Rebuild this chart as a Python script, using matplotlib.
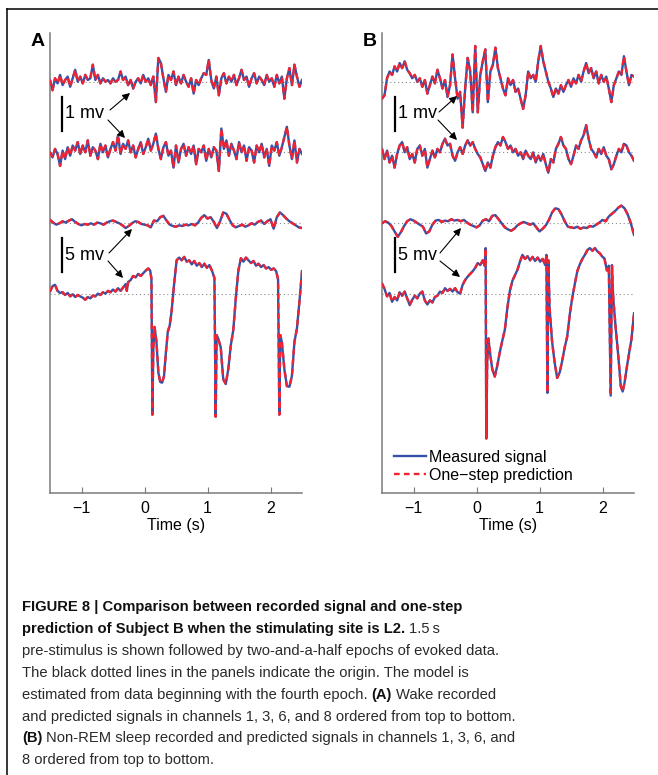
import matplotlib.pyplot as plt
import numpy as np
from matplotlib.lines import Line2D
from matplotlib.patches import FancyArrowPatch

W, H = 658, 775
BLUE = '#3551a8'
RED = '#ef2331'
GRAY = '#7a7a7a'

plt.rcParams['font.family'] = ['Liberation Sans', 'DejaVu Sans']

# time grids (s)
t_fast = np.linspace(-1.5, 2.5, 101)
t_slow = np.linspace(-1.5, 2.5, 81)

# ---- Panel A: wake, channels 1, 3 (mV, 1 mv scale) ----
a_ch1 = [0.05, -0.25, 0.10, -0.05, 0.20, -0.10, 0.05, 0.15, -0.15, 0.10,
         0.35, 0.00, 0.15, -0.05, 0.20, 0.05, 0.10, 0.50, 0.05, 0.20,
         -0.05, 0.10, 0.00, 0.05, -0.05, 0.10, 0.00, 0.05, 0.30, 0.05,
         0.15, -0.10, 0.05, -0.20, 0.00, 0.10, -0.05, 0.20, 0.00, 0.10,
         -0.10, 0.15, -0.60, 0.70, 0.55, 0.10, -0.30, 0.20, 0.05, 0.30,
         -0.10, 0.15, -0.05, 0.20, 0.00, -0.15, 0.10, -0.35, 0.05, -0.10,
         0.10, 0.25, 0.20, 0.64, 0.05, -0.20, 0.15, -0.40, 0.10, 0.25,
         -0.05, 0.15, 0.00, 0.20, -0.10, 0.10, 0.35, 0.05, 0.15, -0.15,
         0.10, 0.25, -0.05, 0.15, 0.05, -0.10, 0.20, 0.00, 0.10, -0.15,
         0.20, -0.05, 0.15, -0.50, 0.10, 0.40, -0.10, 0.50, 0.15, -0.15,
         0.05]
a_ch3 = [0.00, -0.15, 0.10, -0.05, -0.40, 0.05, -0.20, 0.15, -0.10, 0.20,
         0.05, 0.30, -0.05, 0.20, 0.00, 0.35, -0.10, 0.15, 0.05, -0.20,
         0.25, 0.00, 0.20, -0.15, 0.10, 0.30, 0.05, 0.50, -0.05, 0.25,
         0.10, 0.35, 0.00, 0.20, -0.15, 0.10, 0.30, -0.05, 0.15, 0.40,
         0.05, 0.25, 0.55, 0.10, -0.20, 0.15, 0.30, -0.10, 0.05, -0.45,
         0.20, -0.30, 0.10, 0.25, -0.10, 0.15, -0.05, 0.20, -0.35, 0.10,
         0.00, 0.20, -0.25, 0.10, -0.15, 0.15, 0.05, -0.55, 0.70, 0.10,
         0.35, -0.10, 0.25, 0.05, -0.20, 0.30, 0.00, 0.20, -0.25, 0.15,
         0.05, -0.30, 0.20, 0.00, 0.25, -0.15, 0.10, -0.40, 0.20, 0.05,
         0.30, -0.10, 0.15, 0.45, 0.75, 0.20, -0.20, 0.35, -0.30, 0.10,
         -0.05]
# channel 6 (5 mv scale)
a_ch6 = [0.5, 0.1, -0.2, 0.0, 0.3, 0.1, 0.4, 0.6, 0.2, -0.1,
         -0.3, -0.1, -0.2, 0.0, -0.2, 0.1, 0.0, -0.2, 0.1, 0.3,
         0.4, 0.2, 0.0, -0.3, -0.7, -0.4, 0.0, 0.3, 0.2, -0.1,
         -0.2, -0.3, -0.6, 0.4, 0.3, 0.9, 1.1, 0.4, -0.2, -0.4,
         -0.5, -0.3, -0.4, -0.2, -0.3, -0.1, -0.3, 0.1, 0.8, 1.2,
         0.7, 0.9, 0.2, -0.7, 0.3, 1.6, 1.4, 0.5, -0.3, -0.6,
         -0.4, -0.2, -0.5, -0.3, 0.0, -0.2, 0.2, 0.4, -0.1, 0.3,
         0.6, -0.8, 0.9, 1.6, 1.2, 0.7, 0.3, 0.0, -0.3, -0.6,
         -0.7]
# channel 8 (5 mv scale), uneven sampling around the stimulus
a_t8 = [-1.50, -1.46, -1.42, -1.38, -1.34, -1.30, -1.26, -1.22, -1.18, -1.14,
        -1.10, -1.06, -1.02, -0.98, -0.94, -0.90, -0.86, -0.82, -0.78, -0.74,
        -0.70, -0.66, -0.62, -0.58, -0.54, -0.50, -0.46, -0.42, -0.38, -0.34,
        -0.30, -0.28, -0.26, -0.22, -0.18, -0.14, -0.10, -0.06, -0.02, 0.02,
        0.06, 0.09, 0.11, 0.125, 0.14, 0.16, 0.19, 0.22, 0.25, 0.28,
        0.31, 0.34, 0.37, 0.40, 0.43, 0.47, 0.51, 0.55, 0.59, 0.63,
        0.67, 0.71, 0.75, 0.79, 0.83, 0.87, 0.91, 0.95, 0.99, 1.03,
        1.07, 1.11, 1.13, 1.145, 1.17, 1.21, 1.25, 1.29, 1.33, 1.37,
        1.41, 1.45, 1.49, 1.53, 1.57, 1.61, 1.65, 1.69, 1.73, 1.77,
        1.81, 1.85, 1.89, 1.93, 1.97, 2.01, 2.05, 2.09, 2.12, 2.14,
        2.155, 2.18, 2.22, 2.26, 2.30, 2.34, 2.38, 2.42, 2.46, 2.50]
a_ch8 = [0.4, 1.2, 1.4, 0.5, 0.2, 0.3, -0.1, 0.2, -0.3, 0.0,
         -0.4, -0.1, -0.3, -0.5, -0.8, -0.4, -0.6, -0.2, -0.3, 0.1,
         -0.1, 0.3, 0.1, 0.5, 0.3, 0.7, 0.4, 0.9, 0.5, 1.0,
         1.5, 0.5, 1.8, 2.1, 2.7, 2.5, 3.0, 2.7, 3.1, 3.5,
         3.8, 3.5, 2.3, -17.7, -8.0, -4.8, -7.0, -11.5, -12.9, -13.0,
         -12.0, -8.5, -5.5, -4.6, -2.5, 1.5, 5.0, 5.4, 5.0, 5.5,
         4.8, 5.0, 4.4, 4.9, 4.2, 4.6, 4.0, 4.5, 3.9, 4.3,
         3.5, 2.4, -18.0, -6.0, -6.5, -7.8, -12.5, -13.2, -11.0, -7.5,
         -5.2, -0.5, 3.5, 5.3, 4.8, 5.4, 5.0, 4.6, 4.9, 4.2,
         4.5, 4.0, 4.3, 3.8, 4.0, 3.6, 3.8, 3.4, 2.2, -17.7,
         -6.0, -7.0, -11.0, -13.5, -13.6, -12.0, -7.0, -5.0, -1.0, 3.4]

# ---- Panel B: non-REM sleep ----
b_ch1 = [-0.50, -0.40, 0.10, 0.30, 0.20, 0.45, 0.30, 0.55, 0.40, 0.60,
         0.35, 0.25, 0.10, 0.20, 0.00, 0.10, -0.15, 0.05, -0.35, -0.10,
         0.15, -0.05, 0.35, 0.10, -0.20, 0.05, -0.45, -0.10, 0.80, 0.10,
         -0.50, -0.30, -1.35, -0.20, 0.70, 0.30, -0.90, 1.05, -0.90, 0.20,
         0.60, 0.95, -0.60, 0.30, 0.50, 1.00, 0.40, 0.10, -0.20, -0.40,
         0.10, -0.10, 0.05, -0.30, -0.20, -0.50, -0.80, -0.40, 0.30, 0.10,
         0.20, 0.00, 0.60, 1.05, 0.60, 0.30, 0.00, -0.20, -0.45, -0.20,
         -0.35, -0.10, -0.30, -0.10, 0.05, -0.15, 0.10, -0.05, 0.20, 0.00,
         0.30, 0.55, 0.25, 0.40, 0.10, 0.30, -0.05, 0.20, 0.00, 0.15,
         -0.20, -0.60, -0.10, 0.10, 0.30, 0.20, 0.75, 0.30, -0.10, 0.20,
         0.15]
b_ch3 = [0.10, -0.20, 0.05, -0.30, -0.10, -0.45, -0.05, 0.20, 0.30, 0.00,
         0.15, -0.20, -0.05, -0.30, 0.10, 0.20, -0.10, 0.10, -0.45, -0.20,
         0.05, -0.15, 0.10, 0.00, 0.25, 0.40, 0.20, 0.25, -0.10, -0.25,
         0.00, 0.15, -0.05, 0.20, 0.35, 0.20, 0.30, 0.10, -0.05, -0.15,
         -0.35, -0.55, -0.30, -0.45, -0.10, 0.15, 0.30, 0.20, 0.45, 0.30,
         0.10, 0.20, 0.00, 0.10, -0.10, 0.00, -0.20, 0.05, -0.10, -0.20,
         0.00, -0.30, -0.10, -0.25, -0.05, -0.35, -0.60, -0.20, -0.30, 0.10,
         0.25, 0.45, 0.20, 0.10, -0.20, -0.35, -0.10, 0.20, 0.10, 0.35,
         0.50, 0.80, 0.40, 0.10, 0.00, -0.15, 0.10, -0.05, 0.15, -0.10,
         -0.20, -0.50, -0.35, -0.10, 0.10, 0.00, 0.25, 0.20, 0.00, -0.10,
         -0.25]
b_ch6 = [0.0, 0.3, 0.1, -0.4, -1.2, -2.0, -1.3, -0.4, 0.3, 0.6,
         0.4, 0.1, -0.2, -0.5, -1.5, -1.2, -0.2, 0.4, 0.5, 0.2,
         0.4, 0.3, 0.6, 0.4, 0.5, 0.3, 0.5, 0.1, -0.2, -0.4,
         -0.6, -0.3, 0.4, 0.6, 0.3, 1.1, 1.2, 0.6, 0.0, -0.6,
         -0.9, -1.1, -0.8, -0.3, 0.0, 0.2, 0.0, -0.2, 0.0, -0.6,
         -1.2, -0.8, -0.3, 0.5, 1.6, 2.2, 2.1, 1.3, 0.3, -0.5,
         -0.6, -0.7, -0.5, -0.8, -0.6, -0.7, -0.4, -0.5, -0.2, 0.1,
         0.5, 0.3, 1.0, 1.4, 1.8, 2.3, 2.6, 2.2, 1.3, 0.0,
         -1.7]
b_t8 = [-1.50, -1.46, -1.42, -1.38, -1.34, -1.30, -1.26, -1.22, -1.18, -1.14,
        -1.10, -1.06, -1.02, -0.98, -0.94, -0.90, -0.86, -0.82, -0.78, -0.74,
        -0.70, -0.66, -0.62, -0.58, -0.54, -0.50, -0.46, -0.42, -0.38, -0.34,
        -0.30, -0.26, -0.22, -0.18, -0.14, -0.10, -0.06, -0.02, 0.02, 0.06,
        0.10, 0.13, 0.145, 0.155, 0.17, 0.19, 0.22, 0.25, 0.29, 0.33,
        0.37, 0.41, 0.45, 0.49, 0.53, 0.57, 0.61, 0.65, 0.69, 0.73,
        0.77, 0.81, 0.85, 0.89, 0.93, 0.97, 1.01, 1.05, 1.09, 1.11,
        1.125, 1.14, 1.16, 1.20, 1.24, 1.28, 1.32, 1.36, 1.40, 1.44,
        1.48, 1.52, 1.56, 1.60, 1.64, 1.68, 1.72, 1.76, 1.80, 1.84,
        1.88, 1.92, 1.96, 2.00, 2.03, 2.07, 2.10, 2.13, 2.15, 2.17,
        2.21, 2.25, 2.29, 2.32, 2.35, 2.39, 2.43, 2.46, 2.50]
b_ch8 = [1.6, 0.8, -0.3, 0.2, -1.1, -0.4, -0.9, 0.3, -0.2, 0.4,
         -0.6, -1.6, -0.8, -0.2, -0.6, 0.1, 0.4, -0.9, -1.5, -0.9,
         -1.2, -0.4, -0.2, 0.4, 0.2, 0.9, 0.5, 0.8, 0.4, 0.9,
         0.3, 0.1, 1.4, 2.1, 2.6, 3.0, 3.4, 3.9, 4.6, 4.3,
         5.0, 4.2, 6.8, -21.2, -10.0, -6.5, -9.0, -11.0, -12.1, -10.5,
         -8.5, -6.8, -5.2, -2.0, 0.5, 2.0, 2.8, 3.6, 4.8, 5.8,
         5.2, 5.6, 5.0, 5.5, 4.9, 5.4, 4.8, 5.2, 4.3, 5.8,
         -14.5, 5.0, -2.0, -7.0, -10.0, -12.3, -11.5, -9.8, -7.8, -6.2,
         -3.0, -0.5, 1.5, 3.4, 4.4, 5.2, 5.8, 6.5, 6.8, 6.4,
         6.8, 6.3, 6.0, 5.5, 5.3, 3.5, 4.2, -14.9, 4.3, -0.5,
         -5.0, -9.0, -13.5, -14.3, -13.0, -10.5, -8.2, -6.6, -2.8]

# baseline (px below axes top) and px per mV for the 4 rows
rows = [(-48.7, 34.0), (-119.3, 34.0), (-190.3, 6.8), (-261.3, 6.8)]


def fx(x):
    return x / W


def fy(y):
    return 1 - y / H


def panel(left_px, series, label):
    ax = fig.add_axes([fx(left_px), fy(493), 252 / W, 460 / H])
    for (t, v), (off, gain) in zip(series, rows):
        y = off + gain * np.asarray(v)
        ax.plot([-1.5, 2.5], [off, off], ls=(0, (1, 2.5)), color='#8a8a8a', lw=0.8, zorder=1)
        ax.plot(t, y, color=BLUE, lw=1.7, zorder=2)
        ax.plot(t, y, color=RED, lw=1.7, dashes=(2.4, 1.8), zorder=3)
    ax.set_xlim(-1.5, 2.5)
    ax.set_ylim(-460, 0)
    for s in ['top', 'right']:
        ax.spines[s].set_visible(False)
    for s in ['left', 'bottom']:
        ax.spines[s].set_color(GRAY)
        ax.spines[s].set_linewidth(1.1)
    ax.set_yticks([])
    ax.set_xticks([-1, 0, 1, 2])
    ax.tick_params(axis='x', direction='in', length=4, color=GRAY, labelsize=11.5, pad=6)
    ax.set_xlabel('Time (s)', fontsize=11.5, labelpad=1)
    fig.text(fx(left_px - 12), fy(41.5), label, fontsize=14, fontweight='bold',
             ha='center', va='center')
    return ax


def scale_bar(x, y0, y1, text, arrows):
    fig.add_artist(Line2D([fx(x), fx(x)], [fy(y0), fy(y1)], color='k', lw=1.6))
    fig.text(fx(x + 3), fy((y0 + y1) / 2), text, fontsize=13, ha='left', va='center')
    for (xs, ys), (xe, ye) in arrows:
        fig.add_artist(FancyArrowPatch(
            (fx(xs), fy(ys)), (fx(xe), fy(ye)), transform=fig.transFigure,
            arrowstyle='-|>', mutation_scale=11, lw=0.8, color='k',
            shrinkA=0, shrinkB=0))


fig = plt.figure(figsize=(W / 100, H / 100), dpi=100)

panel(50, [(t_fast, a_ch1), (t_fast, a_ch3), (t_slow, a_ch6), (a_t8, a_ch8)], 'A')
axB = panel(382, [(t_fast, b_ch1), (t_fast, b_ch3), (t_slow, b_ch6), (b_t8, b_ch8)], 'B')

scale_bar(62, 97, 131, '1 mv', [((110, 110), (130, 93)), ((108, 120), (125, 138))])
scale_bar(62, 238, 272, '5 mv', [((109, 253), (132, 229)), ((108, 261), (123, 278))])
scale_bar(394.5, 97, 131, '1 mv', [((439, 112), (457, 96)), ((438, 120), (457, 140))])
scale_bar(394.5, 238, 272, '5 mv', [((440, 253), (461, 228)), ((440, 261), (460, 277))])

handles = [Line2D([], [], color=BLUE, lw=1.7),
           Line2D([], [], color=RED, lw=1.7, dashes=(2.4, 1.8))]
axB.legend(handles, ['Measured signal', 'One\u2212step prediction'], loc='center left',
           bbox_to_anchor=(0.047, 0.058), frameon=False, fontsize=11.5, handlelength=2.0,
           handletextpad=0.2, labelspacing=0.2, borderpad=0, borderaxespad=0)

# outer frame (top and left edges)
fig.add_artist(Line2D([fx(7), 1], [fy(9), fy(9)], color='k', lw=1.1))
fig.add_artist(Line2D([fx(7), fx(7)], [fy(9), 0], color='k', lw=1.1))

# caption
cap_font = ['Liberation Sans', 'DejaVu Sans']
cap_size = 10.6
caption = [
    [('FIGURE 8 | Comparison between recorded signal and one-step', True)],
    [('prediction of Subject B when the stimulating site is L2.', True), ('1.5\u2009s', False)],
    [('pre-stimulus is shown followed by two-and-a-half epochs of evoked data.', False)],
    [('The black dotted lines in the panels indicate the origin. The model is', False)],
    [('estimated from data beginning with the fourth epoch.', False), ('(A)', True),
     ('Wake recorded', False)],
    [('and predicted signals in channels 1, 3, 6, and 8 ordered from top to bottom.', False)],
    [('(B)', True), ('Non-REM sleep recorded and predicted signals in channels 1, 3, 6, and', False)],
    [('8 ordered from top to bottom.', False)],
]
renderer = fig.canvas.get_renderer()


def text_width(s, bold):
    t = fig.text(0, 0, s, family=cap_font, fontsize=cap_size,
                 fontweight='bold' if bold else 'normal')
    w = t.get_window_extent(renderer).width
    t.remove()
    return w


space = text_width('x x', False) - text_width('xx', False)
for i, pieces in enumerate(caption):
    y = 611 + i * 21.9
    x = 22
    for s, bold in pieces:
        t = fig.text(fx(x), fy(y), s, family=cap_font, fontsize=cap_size, va='baseline',
                     fontweight='bold' if bold else 'normal',
                     color='#111111' if bold else '#2a2a2a')
        x += t.get_window_extent(renderer).width + space

fig.savefig('out.png', dpi=100)
